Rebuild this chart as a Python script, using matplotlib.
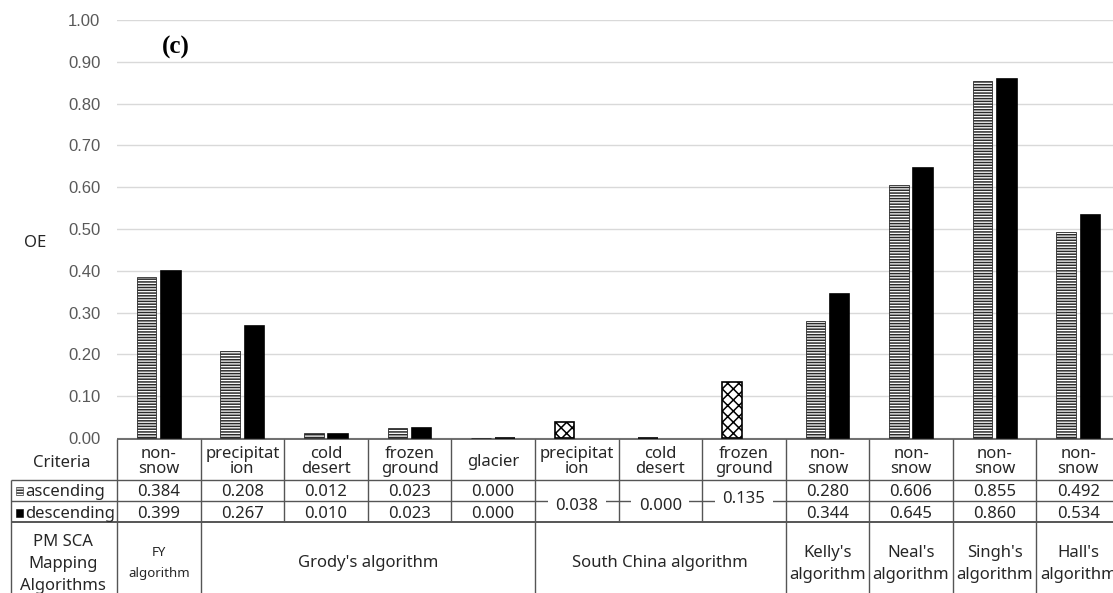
import matplotlib
matplotlib.use("Agg")
import matplotlib.pyplot as plt
from matplotlib.patches import Rectangle

# ---------------- data ----------------
criteria = ["non-\nsnow", "precipitat\nion", "cold\ndesert", "frozen\nground", "glacier",
            "precipitat\nion", "cold\ndesert", "frozen\nground",
            "non-\nsnow", "non-\nsnow", "non-\nsnow", "non-\nsnow"]
pair_idx = [0, 1, 2, 3, 4, 8, 9, 10, 11]
asc_vals = [0.384, 0.208, 0.012, 0.023, 0.000, 0.280, 0.606, 0.855, 0.492]
desc_vals = [0.399, 0.267, 0.010, 0.023, 0.000, 0.344, 0.645, 0.860, 0.534]
south_idx = [5, 6, 7]
south_vals = [0.038, 0.000, 0.135]
algorithms = ["FY\nalgorithm", "Grody's algorithm", "South China algorithm",
              "Kelly's\nalgorithm", "Neal's\nalgorithm", "Singh's\nalgorithm", "Hall's\nalgorithm"]
algo_span = [(0, 0), (1, 4), (5, 7), (8, 8), (9, 9), (10, 10), (11, 11)]
yticks = [0.0, 0.1, 0.2, 0.3, 0.4, 0.5, 0.6, 0.7, 0.8, 0.9, 1.0]

W, H = 1113, 593
plt.rcParams["hatch.linewidth"] = 1.1
FONT = ["Noto Sans", "DejaVu Sans"]
TXT = "#262626"
LINE = "#555555"

fig = plt.figure(figsize=(W / 100, H / 100), dpi=100)
ax = fig.add_axes([117 / W, 1 - 438 / H, 1003 / W, 418 / H], zorder=2)
ax.patch.set_visible(False)
ax.set_xlim(-0.5, 11.5)
ax.set_ylim(0, 1.0)
for s in ax.spines.values():
    s.set_visible(False)
ax.set_xticks([])
ax.set_yticks(yticks)
ax.set_yticklabels([f"{v:.2f}" for v in yticks], fontsize=12, color="#595959",
                   family=["Liberation Sans", "DejaVu Sans"])
ax.tick_params(axis="y", length=0, pad=12)
ax.yaxis.grid(True, color="#d9d9d9", lw=1)
ax.set_axisbelow(True)

bw = 0.235
off = 0.145
px = [i - off for i in pair_idx]
dx = [i + off for i in pair_idx]
ax.bar(px, asc_vals, width=bw, facecolor="white", edgecolor="#2a2a2a", hatch="------",
       linewidth=0.6, zorder=3, clip_on=False)
ax.bar(dx, desc_vals, width=bw, facecolor="black", edgecolor="black", linewidth=1.2,
       zorder=3, clip_on=False)
ax.bar([i - off for i in south_idx], south_vals, width=bw, facecolor="white",
       edgecolor="black", hatch="xxx", linewidth=1.2, zorder=3, clip_on=False)

fig.text(176 / W, 1 - 47 / H, "(c)", fontsize=18, fontweight="bold",
         family=["Liberation Serif", "DejaVu Serif"], ha="center", va="center", color="black")
fig.text(35 / W, 1 - 243 / H, "OE", fontsize=12, family=FONT, ha="center", va="center", color=TXT)

# ---------------- table overlay (pixel coords) ----------------
tab = fig.add_axes([0, 0, 1, 1], zorder=1)
tab.set_xlim(0, W)
tab.set_ylim(H, 0)
tab.axis("off")
fig.canvas.draw()


def bx(d):
    return ax.transData.transform((d, 0))[0]


bounds = [bx(i - 0.5) for i in range(13)]
cent = [bx(i) for i in range(12)]
y_top, y_hdr, y_mid, y_alg, y_bot = 439, 480, 501, 522, 600
LEFT = 11


def hl(x0, x1, y, lw=1.0):
    tab.plot([x0, x1], [y, y], color=LINE, lw=lw, solid_capstyle="butt", zorder=1)


def vl(x, y0, y1, lw=1.0):
    tab.plot([x, x], [y0, y1], color=LINE, lw=lw, solid_capstyle="butt", zorder=1)


hl(bounds[0], W, y_top, 1.2)
hl(LEFT, W, y_hdr)
hl(LEFT, W, y_mid)
hl(LEFT, W, y_alg, 1.4)
vl(LEFT, y_hdr, y_bot)
for b in bounds[:12]:
    vl(b, y_top, y_alg)
for k, (a, b) in enumerate(algo_span):
    vl(bounds[a], y_alg, y_bot)

FS = 12
tkw = dict(family=FONT, color=TXT, ha="center", va="center")
tab.text(62, 463, "Criteria", fontsize=FS, **tkw)
for i, c in enumerate(criteria):
    tab.text(cent[i], 461.5, c, fontsize=FS, linespacing=0.98, **tkw)

# row labels with swatches
tab.add_patch(Rectangle((16, 487), 7, 8, facecolor="white", edgecolor="#333333",
                        hatch="------", lw=0.4))
tab.add_patch(Rectangle((16, 509), 7, 8, facecolor="black", edgecolor="black", lw=0.4))
tab.text(25, 492, "ascending", fontsize=FS, family=FONT, color=TXT, ha="left", va="center")
tab.text(25, 513.5, "descending", fontsize=FS, family=FONT, color=TXT, ha="left", va="center")

for j, i in enumerate(pair_idx):
    tab.text(cent[i], 492, f"{asc_vals[j]:.3f}", fontsize=FS, **tkw)
    tab.text(cent[i], 513.5, f"{desc_vals[j]:.3f}", fontsize=FS, **tkw)
south_y = [506, 506, 499]
for j, i in enumerate(south_idx):
    tab.add_patch(Rectangle((cent[i] - 29, y_mid - 4), 58, 8, facecolor="white",
                            edgecolor="none", zorder=2))
    tab.text(cent[i], south_y[j], f"{south_vals[j]:.3f}", fontsize=FS, zorder=3, **tkw)

tab.text(63, 564, "PM SCA\nMapping\nAlgorithms", fontsize=FS, linespacing=1.5, **tkw)
for k, (a, b) in enumerate(algo_span):
    xc = (bounds[a] + bounds[b + 1]) / 2
    if k == 0:
        tab.text(xc, 563, algorithms[k], fontsize=9.5, linespacing=1.75, **tkw)
    elif "\n" in algorithms[k]:
        tab.text(xc, 564, algorithms[k], fontsize=FS, linespacing=1.55, **tkw)
    else:
        tab.text(xc, 563, algorithms[k], fontsize=FS, **tkw)

fig.savefig("out.png", dpi=100)
